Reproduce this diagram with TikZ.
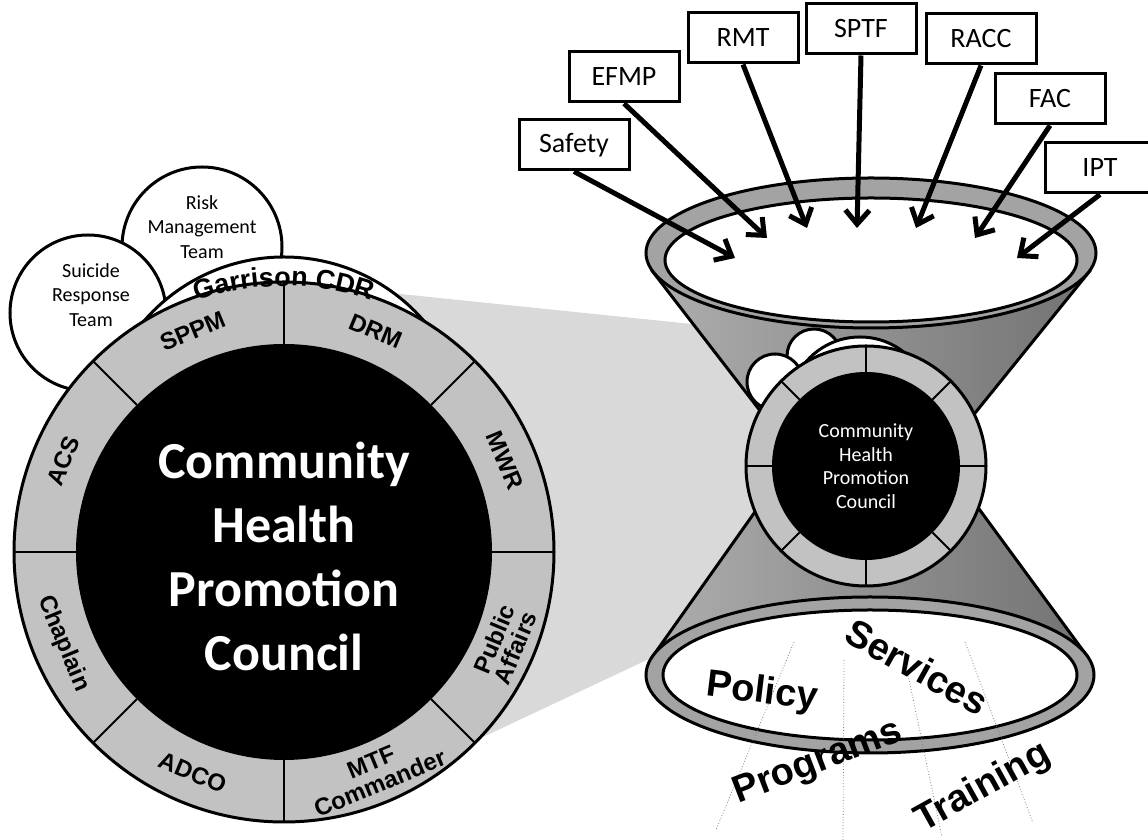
\documentclass[tikz,border=0pt]{standalone}
\usepackage{fontspec}
\setmainfont{Carlito}
\newfontfamily\armysans{Liberation Sans}
\usetikzlibrary{calc,arrows.meta,decorations.text}

\definecolor{beamgray}{gray}{0.85}
\definecolor{ringgray}{gray}{0.76}
\definecolor{rimgray}{gray}{0.64}
\definecolor{conelight}{gray}{0.68}
\definecolor{conedark}{gray}{0.45}

\newcommand{\garfont}{\armysans\bfseries\fontsize{13.5}{13.5}\selectfont}

\begin{document}
\begin{tikzpicture}[x=0.5pt,y=0.5pt]
\tikzstyle{unit}=[draw, line width=1.5pt, fill=white, minimum width=55pt, minimum height=25pt, inner sep=0pt, font=\fontsize{14}{16}\selectfont]
\tikzstyle{feed}=[line width=2.5pt, -{Straight Barb[length=7pt, width=12pt]}]
\tikzstyle{seglabel}=[font=\armysans\bfseries\fontsize{12}{11.5}\selectfont, align=center, inner sep=0pt]
\tikzstyle{outcome}=[font=\armysans\bfseries\fontsize{19}{19}\selectfont, inner sep=0pt]
\tikzstyle{team}=[align=center, font=\fontsize{10}{12.25}\selectfont, inner sep=0pt]
\tikzstyle{edge}=[line width=1.5pt]
\tikzstyle{divider}=[line width=1pt]
\tikzstyle{ray}=[gray, densely dotted, line width=0.4pt]

\useasboundingbox (0,0) rectangle (1148,840);

\coordinate (chpc) at (284,288);
\coordinate (mini) at (866,374);

% beam from the big council to the small one
\fill[beamgray] (284,558) -- (866,498) -- (866,283) -- (400,64) -- (284,288) -- cycle;

% lower cone
\draw[edge, left color=conelight, right color=conedark] (653,184) -- (866,485) -- (1087,184) -- cycle;
\draw[edge, fill=rimgray] (870,165) ellipse [x radius=224, y radius=78];
\draw[edge, fill=white] (870,165) ellipse [x radius=207, y radius=65];

% upper cone
\draw[edge, left color=conelight, right color=conedark] (653,568) -- (866,292) -- (1089,568) -- cycle;
\draw[edge, fill=rimgray] (871,587) ellipse [x radius=225, y radius=75];
\draw[edge, fill=white] (871,580) ellipse [x radius=206, y radius=62];

% small council
\draw[edge, fill=white] (814,484) circle (27);
\draw[edge, fill=white] (775,458) circle (28);
\draw[edge, fill=white] (860,432) circle (71);
\draw[edge, fill=ringgray] (mini) circle (120);
\fill (mini) circle (94);
\foreach \a in {0,45,...,315}
  \draw[divider] ($(mini)+(\a:94)$) -- ($(mini)+(\a:120)$);
\node[align=center, text=white, font=\fontsize{10}{11.75}\selectfont] (minichpc) at (mini) {Community\\Health\\Promotion\\Council};

% big council
\draw[edge, fill=white] (202,593) circle (80);
\draw[edge, fill=white] (88,527) circle (78);
\draw[edge, fill=white] (284,398) circle (185);
\node[team] (rmtxt) at (202,613) {Risk\\Management\\Team};
\node[team] (srtxt) at (91,545) {Suicide\\Response\\Team};
\draw[edge, fill=ringgray] (chpc) circle (270);
\fill (chpc) circle (208);
\foreach \a in {0,45,...,315}
  \draw[divider] ($(chpc)+(\a:208)$) -- ($(chpc)+(\a:270)$);
\path[decorate, decoration={text along path, text align=center, text={|\garfont|Garrison CDR}}]
  ($(chpc)+(110:266)$) arc [start angle=110, end angle=70, radius=266];

\foreach \ang/\rot/\txt/\nm in {112.5/22.5/SPPM/sppm, 67.5/-22.5/DRM/drm, 22.5/-67.5/MWR/mwr,
    -22.5/67.5/{Public\\Affairs}/pao, -67.5/22.5/{MTF\\Commander}/mtf, -112.5/-22.5/ADCO/adco,
    -157.5/-67.5/Chaplain/chap, 157.5/67.5/ACS/acs}
  \node[seglabel, rotate=\rot] (\nm) at ($(chpc)+(\ang:239)$) {\txt};

\node[align=center, text=white, font=\bfseries\fontsize{26}{32}\selectfont] (chpctxt) at (284,284) {Community\\Health\\Promotion\\Council};

% feeders into the funnel
\node[unit] (safety) at (574,695) {Safety};
\node[unit] (efmp) at (624,763) {EFMP};
\node[unit] (rmt) at (743,802) {RMT};
\node[unit] (sptf) at (861,811) {SPTF};
\node[unit] (racc) at (981,801) {RACC};
\node[unit] (fac) at (1050,741) {FAC};
\node[unit] (ipt) at (1100,672) {IPT};

\coordinate (in1) at (735,582);
\coordinate (in2) at (767,602);
\coordinate (in3) at (807,612);
\coordinate (in4) at (857,612);
\coordinate (in5) at (916,612);
\coordinate (in6) at (975,602);
\coordinate (in7) at (1017,582);

\draw[feed] (safety.south) -- (in1);
\draw[feed] (efmp.south) -- (in2);
\draw[feed] (rmt.south) -- (in3);
\draw[feed] (sptf.south) -- (in4);
\draw[feed] (racc.south) -- (in5);
\draw[feed] (fac.south) -- (in6);
\draw[feed] (ipt.south) -- (in7);

% outputs
\draw[ray] (794,198) -- (716,10);
\draw[ray] (844,180) -- (843,0);
\draw[ray] (907,170) -- (942,3);
\draw[ray] (965,198) -- (1033,17);

\node[outcome, rotate=-7] (policy) at (762,147) {Policy};
\node[outcome, rotate=-29] (services) at (917,173) {Services};
\node[outcome, rotate=21] (programs) at (818,77) {Programs};
\node[outcome, rotate=29] (training) at (983,52) {Training};

\end{tikzpicture}
\end{document}
